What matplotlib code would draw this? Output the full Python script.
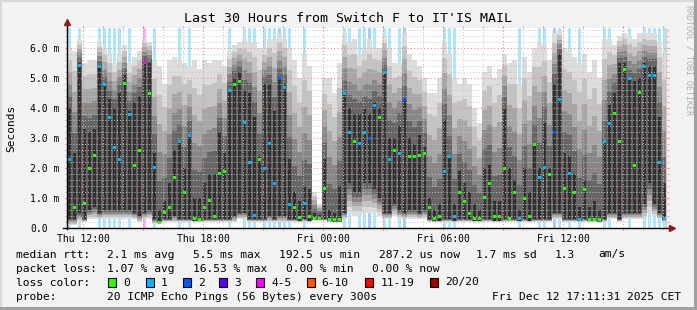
import numpy as np
import matplotlib
matplotlib.use('Agg')
import matplotlib.pyplot as plt
from matplotlib.patches import Rectangle

plt.rcParams['font.family'] = 'DejaVu Sans Mono'

# time axis: 30 hours ending Fri 17:11:31, 15 min slots
START_H = 11 + 11 / 60 + 31 / 3600   # Thu 11:11:31
STEP_H = 0.25
SPAN_H = 30.0
YMAX = 6.667   # ms

# median rtt per slot (ms)
median = [2.27, 0.67, 5.43, 0.83, 2.0, 2.43, 5.37, 4.77, 3.7, 2.7,
          2.3, 4.83, 3.77, 2.1, 2.57, 5.53, 4.5, 2.03, 0.2, 0.53,
          0.67, 1.7, 2.87, 1.17, 3.07, 0.33, 0.3, 0.7, 0.93, 0.37,
          1.83, 1.9, 4.57, 4.8, 4.9, 3.53, 2.2, 0.43, 2.27, 2.0,
          2.83, 1.5, 4.97, 4.67, 0.77, 0.67, 0.35, 0.83, 0.4, 0.33,
          0.33, 1.33, 0.3, 0.27, 0.27, 4.47, 3.17, 2.9, 2.83, 3.2,
          3.0, 4.07, 3.67, 5.2, 2.3, 2.57, 2.5, 4.27, 2.4, 2.37,
          2.43, 2.5, 0.7, 0.33, 0.4, 1.87, 2.37, 0.4, 1.2, 0.87,
          0.5, 0.33, 0.33, 1.03, 1.5, 0.4, 0.38, 1.97, 0.33, 1.2,
          0.33, 1.0, 0.4, 2.8, 1.7, 2.03, 1.77, 3.2, 4.27, 1.33,
          1.83, 1.17, 0.27, 1.3, 0.27, 0.3, 0.27, 2.87, 3.47, 3.83,
          2.9, 5.3, 4.97, 2.1, 4.53, 5.4, 5.1, 5.07, 2.17, 0.33]

# lost pings (of 20) per slot
loss = [1, 0, 1, 0, 0, 0, 1, 1, 1, 1,
        1, 0, 1, 0, 0, 4, 0, 1, 0, 0,
        0, 0, 1, 0, 1, 0, 0, 0, 0, 0,
        0, 0, 1, 0, 0, 1, 1, 1, 0, 1,
        1, 1, 2, 1, 1, 0, 0, 1, 0, 0,
        0, 0, 0, 0, 0, 1, 1, 0, 1, 1,
        2, 1, 0, 1, 1, 0, 1, 2, 0, 0,
        0, 0, 0, 0, 0, 1, 1, 1, 0, 0,
        0, 0, 0, 0, 0, 0, 0, 0, 0, 0,
        1, 0, 0, 0, 1, 1, 0, 2, 1, 0,
        1, 0, 1, 0, 0, 0, 0, 1, 1, 0,
        0, 0, 1, 0, 0, 1, 1, 1, 1, 1]

# smoke: fastest ping, inner range low/high, slowest ping (ms)
ping_min = [0.1, 0.1, 0.2, 0.2, 0.3, 0.3, 0.3, 0.3, 0.3, 0.3,
            0.3, 0.3, 0.3, 0.3, 0.2, 0.3, 0.3, 0.15, 0.15, 0.2,
            0.2, 0.2, 0.2, 0.2, 0.2, 0.2, 0.2, 0.2, 0.2, 0.2,
            0.2, 0.2, 0.2, 0.2, 0.3, 0.3, 0.2, 0.2, 0.2, 0.2,
            0.2, 0.2, 0.2, 0.2, 0.2, 0.2, 0.2, 0.2, 0.2, 0.25,
            0.25, 0.25, 0.2, 0.2, 0.2, 0.3, 0.5, 0.4, 0.4, 0.5,
            0.5, 0.5, 0.4, 0.3, 0.3, 0.4, 0.3, 0.3, 0.3, 0.3,
            0.3, 0.3, 0.2, 0.2, 0.2, 0.2, 0.2, 0.2, 0.2, 0.2,
            0.2, 0.2, 0.2, 0.2, 0.2, 0.2, 0.2, 0.2, 0.2, 0.2,
            0.2, 0.2, 0.2, 0.2, 0.2, 0.2, 0.2, 0.3, 0.3, 0.2,
            0.2, 0.2, 0.2, 0.2, 0.2, 0.2, 0.2, 0.2, 0.3, 0.3,
            0.2, 0.3, 0.3, 0.3, 0.3, 0.3, 0.5, 0.4, 0.3, 0.2]
ping_lo = [0.3, 0.3, 0.5, 0.3, 0.6, 0.7, 0.5, 0.6, 0.6, 0.6,
           0.6, 0.6, 0.6, 0.5, 0.4, 0.5, 0.6, 0.3, 0.2, 0.3,
           0.3, 0.4, 0.3, 0.3, 0.3, 0.25, 0.25, 0.3, 0.3, 0.3,
           0.3, 0.3, 0.3, 0.4, 0.5, 0.5, 0.3, 0.3, 0.3, 0.3,
           0.4, 0.3, 0.4, 0.4, 0.3, 0.3, 0.25, 0.3, 0.25, 0.28,
           0.28, 0.3, 0.25, 0.22, 0.22, 0.5, 1.5, 1.2, 1.2, 1.5,
           1.5, 1.3, 1.0, 0.5, 0.5, 0.8, 0.6, 0.5, 0.6, 0.6,
           0.5, 0.6, 0.3, 0.25, 0.25, 0.3, 0.3, 0.25, 0.3, 0.3,
           0.3, 0.25, 0.25, 0.3, 0.3, 0.25, 0.25, 0.3, 0.3, 0.3,
           0.25, 0.3, 0.25, 0.3, 0.3, 0.3, 0.3, 0.5, 0.5, 0.3,
           0.3, 0.3, 0.25, 0.3, 0.25, 0.25, 0.22, 0.3, 0.5, 0.5,
           0.3, 0.5, 0.5, 0.5, 0.5, 0.8, 1.5, 0.8, 0.5, 0.3]
ping_hi = [4.0, 2.5, 5.5, 3.3, 3.2, 3.3, 5.4, 4.8, 4.3, 4.0,
           4.5, 5.1, 3.9, 4.2, 4.4, 5.6, 5.5, 2.5, 0.6, 0.9,
           1.5, 2.6, 2.9, 2.0, 3.1, 1.0, 1.0, 1.5, 1.8, 1.8,
           3.2, 2.5, 4.6, 5.0, 5.2, 4.6, 4.5, 3.7, 2.4, 4.8,
           4.8, 3.9, 5.0, 4.8, 2.3, 1.2, 0.9, 1.4, 1.3, 0.5,
           0.45, 2.3, 0.6, 0.5, 1.4, 4.5, 4.0, 3.8, 3.8, 4.0,
           3.8, 4.2, 4.0, 5.2, 3.0, 3.0, 3.4, 4.3, 3.0, 2.8,
           3.1, 2.7, 1.0, 0.6, 0.8, 3.6, 2.4, 0.8, 1.9, 1.5,
           1.2, 0.8, 0.6, 2.0, 2.1, 0.9, 0.9, 4.0, 2.0, 1.6,
           0.6, 2.0, 1.2, 2.8, 2.0, 3.5, 2.0, 4.8, 5.8, 2.5,
           2.4, 1.8, 0.7, 1.6, 0.7, 0.9, 0.6, 2.9, 4.1, 4.5,
           5.5, 5.5, 5.0, 4.9, 5.0, 5.5, 5.4, 5.4, 3.7, 1.5]
ping_max = [6.0, 5.9, 6.3, 5.5, 5.6, 5.6, 6.2, 6.0, 5.8, 5.5,
            5.8, 6.1, 5.5, 5.7, 5.9, 6.3, 6.2, 5.6, 5.4, 4.8,
            5.6, 5.7, 5.6, 5.5, 5.4, 5.6, 5.3, 5.6, 5.5, 5.6,
            5.6, 5.4, 5.9, 6.1, 6.2, 6.3, 6.2, 6.2, 6.0, 6.0,
            6.3, 6.3, 6.5, 6.3, 6.0, 5.6, 5.0, 5.8, 5.4, 1.2,
            0.8, 5.0, 5.0, 4.5, 5.5, 6.5, 6.2, 6.3, 5.8, 6.0,
            6.3, 6.0, 6.0, 6.4, 6.0, 5.5, 5.5, 6.5, 5.8, 5.6,
            5.4, 5.0, 4.5, 4.5, 5.0, 6.2, 5.8, 5.0, 4.8, 5.0,
            4.8, 4.0, 3.5, 5.2, 5.4, 5.0, 5.3, 5.8, 5.5, 5.6,
            4.8, 5.7, 5.2, 6.0, 6.2, 6.1, 5.6, 6.5, 6.6, 6.0,
            5.9, 5.7, 5.5, 5.8, 5.2, 5.6, 5.0, 6.3, 6.3, 6.1,
            6.4, 6.5, 6.4, 6.3, 6.5, 6.5, 6.5, 6.5, 6.2, 5.8]

tick_labels = ['Thu 12:00', 'Thu 18:00', 'Fri 00:00', 'Fri 06:00', 'Fri 12:00']
loss_names = ['0', '1', '2', '3', '4-5', '6-10', '11-19', '20/20']
loss_palette = ['#26ff00', '#00b8ff', '#0059ff', '#5e00ff', '#ff00ff', '#ff5500', '#ff0000', '#a10000']
loss_lower = [0, 1, 2, 3, 4, 6, 11, 20]

rtt_stats = ['2.1 ms avg', '5.5 ms max', '192.5 us min', '287.2 us now', '1.7 ms sd', '1.3', 'am/s']
loss_stats = ['1.07 % avg', '16.53 % max', '0.00 % min', '0.00 % now']


def loss_color(n):
    idx = max(i for i, lo in enumerate(loss_lower) if n >= lo)
    return loss_palette[idx]


t = np.arange(len(median)) * STEP_H
med = np.array(median)
mn, lo, hi, mx = (np.array(a) for a in (ping_min, ping_lo, ping_hi, ping_max))

W, H = 697, 310
fig = plt.figure(figsize=(W / 100, H / 100), dpi=100, facecolor='#f2f2f2')
ax = fig.add_axes([67 / W, (H - 228) / H, 600 / W, 200 / H])
ax.set_facecolor('white')
ax.set_xlim(0, SPAN_H)
ax.set_ylim(0, YMAX)

# loss background bars
for ti, n in zip(t, loss):
    if n > 0:
        ax.bar(ti + STEP_H * 0.25, YMAX, width=STEP_H * 0.5, align='edge',
               color=loss_color(n), alpha=0.32, lw=0, zorder=1)

# smoke, light at the extremes, dark towards the middle pings
shades = ['#dddddd', '#c3c3c3', '#a6a6a6', '#878787', '#666666']
for k, c in enumerate(shades):
    f = k / len(shades)
    bot = mn + (lo - mn) * f
    top = mx - (mx - hi) * f
    ax.bar(t, top - bot, bottom=bot, width=STEP_H, align='edge',
           color=c, lw=0, zorder=2)
ax.bar(t + STEP_H * 0.25, hi - lo, bottom=lo, width=STEP_H * 0.5, align='edge',
       color='#313131', lw=0, zorder=2)

# grid
x_major = [h - START_H for h in range(12, 42, 3)]
x_minor = [h - START_H for h in range(12, 42, 1)]
ax.set_xticks(x_major)
ax.set_xticks(x_minor, minor=True)
ax.set_xticklabels([tick_labels[i // 2] if i % 2 == 0 else '' for i in range(len(x_major))])
ax.set_yticks(range(7))
ax.set_yticks(np.arange(0, 6.7, 0.2), minor=True)
ax.set_yticklabels(['0.0'] + ['%d.0 m' % v for v in range(1, 7)], ha='left')
ax.grid(which='minor', color='#c4c4c4', ls=(0, (1, 2)), lw=0.7, zorder=3)
ax.grid(which='major', color='#eb8f8f', ls=(0, (1, 2)), lw=0.8, zorder=3)
ax.set_axisbelow(False)
ax.axvline(SPAN_H - 0.05, color='#f4b8b8', lw=0.8, zorder=3)

ax.tick_params(which='both', direction='out', length=1.6, width=0.8,
               top=True, right=True, labelsize=7)
ax.tick_params(which='major', colors='#e08080', labelcolor='black')
ax.tick_params(which='minor', colors='#b8b8b8')
ax.tick_params(axis='y', which='major', pad=25)
ax.tick_params(axis='x', which='major', pad=3)
for s in ax.spines.values():
    s.set_visible(False)

# median markers
ax.bar(t + STEP_H * 0.22, 0.1, bottom=med - 0.05, width=STEP_H * 0.56, align='edge',
       color=[loss_color(n) for n in loss], lw=0, zorder=5)

# axes with arrows
arrow_c = '#8b1c1c'
ax.plot([0, 0], [-0.05, YMAX + 0.2], color='black', lw=1, clip_on=False, zorder=6)
ax.plot([-0.2, SPAN_H + 0.25], [0, 0], color='black', lw=1, clip_on=False, zorder=6)
ax.plot([0], [YMAX + 0.2], marker='^', ms=4.5, color=arrow_c, clip_on=False, zorder=7)
ax.plot([SPAN_H + 0.25], [0], marker='>', ms=4.5, color=arrow_c, clip_on=False, zorder=7)

# texts
fig.text(348.5 / W, 1 - 19 / H, "Last 30 Hours from Switch F to IT'IS MAIL",
         ha='center', va='center', fontsize=9.5)
fig.text(11 / W, 1 - 128 / H, 'Seconds', rotation=90, ha='center', va='center', fontsize=8)
fig.text(689 / W, 1 - 60 / H, 'RRDTOOL / TOBI OETIKER', rotation=270,
         ha='center', va='center', fontsize=6, color='#b0b0b0')

fs = 8.1
row_y = [254.5, 268.5, 282.5, 296.5]
fig.text(16 / W, 1 - row_y[0] / H, 'median rtt:', va='center', fontsize=fs)
for x, s in zip([107, 193, 279, 379, 476.5, 555, 598], rtt_stats):
    fig.text(x / W, 1 - row_y[0] / H, s, va='center', fontsize=fs)
fig.text(16 / W, 1 - row_y[1] / H, 'packet loss:', va='center', fontsize=fs)
for x, s in zip([107, 193, 285.5, 372.5], loss_stats):
    fig.text(x / W, 1 - row_y[1] / H, s, va='center', fontsize=fs)
fig.text(16 / W, 1 - row_y[2] / H, 'loss color:', va='center', fontsize=fs)
for x, name, c in zip([108.3, 145.7, 182.7, 219.3, 256, 306.7, 365.3, 430.2], loss_names, loss_palette):
    fig.add_artist(Rectangle((x / W, 1 - (row_y[2] + 4.5) / H), 8 / W, 9 / H,
                             transform=fig.transFigure, facecolor=c, edgecolor='black', lw=0.8))
    fig.text((x + 15) / W, 1 - row_y[2] / H, name, va='center', fontsize=fs)
fig.text(16 / W, 1 - row_y[3] / H, 'probe:', va='center', fontsize=fs)
fig.text(107 / W, 1 - row_y[3] / H, '20 ICMP Echo Pings (56 Bytes) every 300s', va='center', fontsize=fs)
fig.text(681 / W, 1 - row_y[3] / H, 'Fri Dec 12 17:11:31 2025 CET', ha='right', va='center', fontsize=fs)

# 3d border
for (x0, y0, w, h, c) in [(0, H - 2, W, 2, '#d8d8d8'), (0, 0, 2, H, '#d8d8d8'),
                          (0, 0, W, 3, '#a0a0a0'), (W - 3, 0, 3, H, '#a0a0a0')]:
    fig.add_artist(Rectangle((x0 / W, y0 / H), w / W, h / H, transform=fig.transFigure,
                             facecolor=c, edgecolor='none'))

fig.savefig('out.png', dpi=100, facecolor=fig.get_facecolor())
